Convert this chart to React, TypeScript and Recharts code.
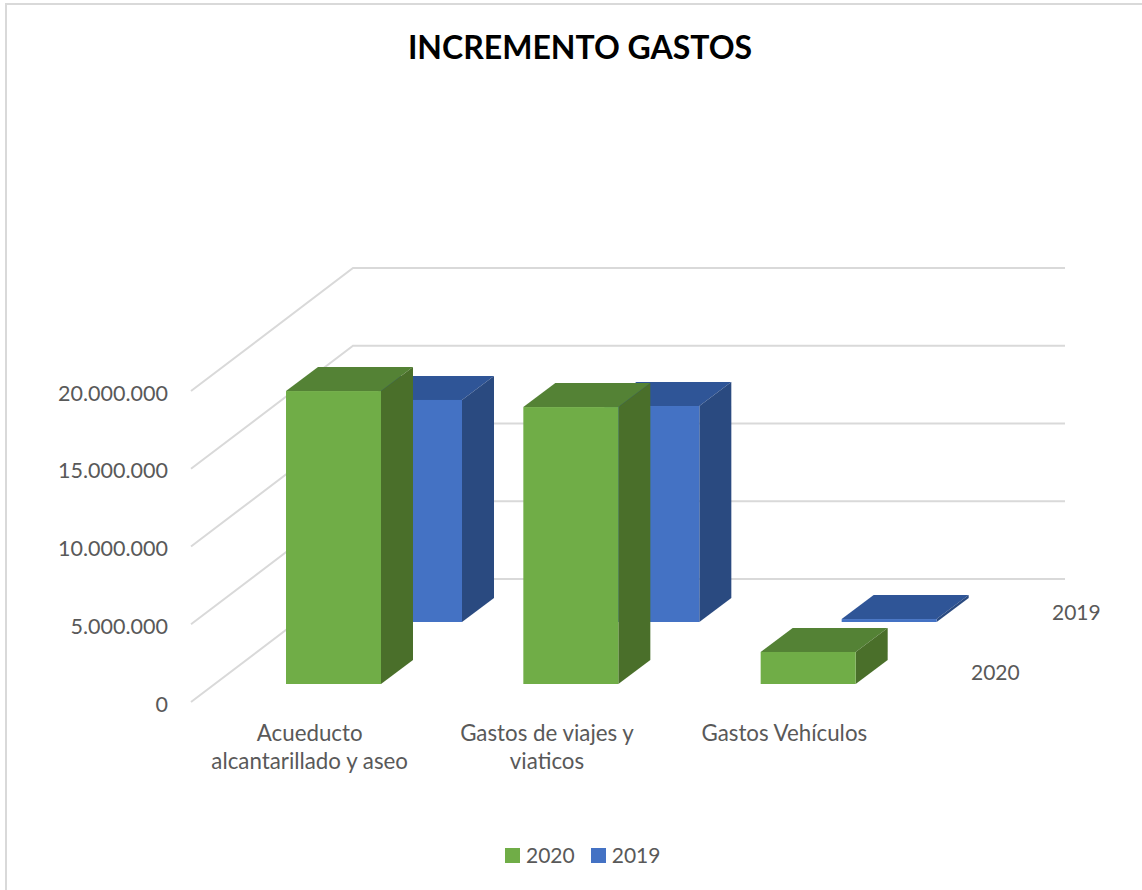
import React from 'react';
import { BarChart, Bar, XAxis, YAxis, CartesianGrid, Legend } from 'recharts';

const categories = ['Acueducto alcantarillado y aseo', 'Gastos de viajes y viaticos', 'Gastos Vehículos'];
const tickLines = [
    ['Acueducto', 'alcantarillado y aseo'],
    ['Gastos de viajes y', 'viaticos'],
    ['Gastos Vehículos'],
];
const values2020 = [18840000, 17810000, 2060000];
const values2019 = [14280000, 13890000, 190000];
const yTicks = [0, 5000000, 10000000, 15000000, 20000000];
const legendOrder = ['2020', '2019'];

const data = categories.map((name, i) => ({
    name,
    y2020: values2020[i],
    y2019: values2019[i],
}));

const FONT = 'Lato, sans-serif';
const TEXT_COLOR = '#595959';
const GRID_COLOR = '#d9d9d9';
const BAR_WIDTH = 95;

// depth of the floor in pixels, and of one box
const FLOOR_DX = 162;
const FLOOR_DY = 123;
const BOX_DX = 32;
const BOX_DY = 24;

const COLORS_2020 = { front: '#70ad47', top: '#548235', side: '#4a6f2a' };
const COLORS_2019 = { front: '#4472c4', top: '#2f5597', side: '#2a4a80' };
const LEGEND_COLORS: Record<string, string> = { '2020': COLORS_2020.front, '2019': COLORS_2019.front };

const formatTick = (v: number) => v.toString().replace(/\B(?=(\d{3})+(?!\d))/g, '.');

// box drawn from the bar rectangle, pushed back into the floor by (dx, dy)
const boxShape = (colors: typeof COLORS_2020, dx: number, dy: number) => (props: any) => {
    const x = props.x + dx;
    const y = props.y + dy;
    const w = props.width;
    const h = props.height;
    return (
        <g>
            <polygon
                points={`${x},${y} ${x + BOX_DX},${y - BOX_DY} ${x + w + BOX_DX},${y - BOX_DY} ${x + w},${y}`}
                fill={colors.top}
            />
            <polygon
                points={`${x + w},${y} ${x + w + BOX_DX},${y - BOX_DY} ${x + w + BOX_DX},${y + h - BOX_DY} ${x + w},${y + h}`}
                fill={colors.side}
            />
            <rect x={x} y={y} width={w} height={h} fill={colors.front} />
        </g>
    );
};

const gridLine = (props: any) => {
    const { x1, y1, x2 } = props;
    return (
        <polyline
            key={props.key ?? y1}
            points={`${x1},${y1} ${x1 + FLOOR_DX},${y1 - FLOOR_DY} ${x2 + FLOOR_DX},${y1 - FLOOR_DY}`}
            fill="none"
            stroke={GRID_COLOR}
            strokeWidth={2}
        />
    );
};

const CategoryTick = (props: any) => {
    const { x, y, index } = props;
    return (
        <text x={x} textAnchor="middle" fontFamily={FONT} fontSize={22.3} fill={TEXT_COLOR}>
            {tickLines[index].map((line, i) => (
                <tspan key={line} x={x} y={y + 31 + i * 28}>
                    {line}
                </tspan>
            ))}
        </text>
    );
};

const LegendContent = () => (
    <div style={{ display: 'flex', fontFamily: FONT, fontSize: 21, color: TEXT_COLOR, lineHeight: '24px' }}>
        {legendOrder.map((name, i) => (
            <div key={name} style={{ display: 'flex', alignItems: 'center', marginRight: i === 0 ? 16 : 0 }}>
                <span style={{ width: 15, height: 15, background: LEGEND_COLORS[name], marginRight: 6 }} />
                {name}
            </div>
        ))}
    </div>
);

export default function App() {
    return (
        <div style={{ position: 'absolute', left: 0, top: 0, width: 1142, height: 890, overflow: 'hidden', background: '#fff' }}>
            <div
                style={{
                    position: 'absolute',
                    left: 5,
                    top: 3,
                    width: 1137,
                    height: 887,
                    borderLeft: `2px solid ${GRID_COLOR}`,
                    borderTop: `2px solid ${GRID_COLOR}`,
                    boxSizing: 'border-box',
                }}
            />
            <div style={{ position: 'absolute', left: 0, top: 0 }}>
                <BarChart
                    width={1142}
                    height={890}
                    data={data}
                    barSize={BAR_WIDTH}
                    barGap={-BAR_WIDTH}
                    margin={{ top: 391, right: 239, bottom: 108, left: 0 }}
                >
                    <text x={580} y={59} textAnchor="middle" fontFamily={FONT} fontSize={32} fontWeight={700} fill="#000">
                        INCREMENTO GASTOS
                    </text>
                    <CartesianGrid vertical={false} horizontal={gridLine} />
                    <XAxis
                        dataKey="name"
                        axisLine={false}
                        tickLine={false}
                        height={80}
                        interval={0}
                        tick={<CategoryTick />}
                    />
                    <YAxis
                        width={191}
                        domain={[0, 20000000]}
                        ticks={yTicks}
                        axisLine={false}
                        tickLine={false}
                        tickMargin={17}
                        tickFormatter={formatTick}
                        tick={{ fontFamily: FONT, fontSize: 21.5, fill: TEXT_COLOR, dy: 2 }}
                    />
                    <Bar dataKey="y2019" isAnimationActive={false} shape={boxShape(COLORS_2019, 105, -80)} />
                    <Bar dataKey="y2020" isAnimationActive={false} shape={boxShape(COLORS_2020, 24, -18)} />
                    <Legend
                        verticalAlign="middle"
                        content={<LegendContent />}
                        wrapperStyle={{ left: 505, top: 843, width: 'auto' }}
                    />
                    <text x={1052} y={620} fontFamily={FONT} fontSize={21} fill={TEXT_COLOR}>
                        {legendOrder[1]}
                    </text>
                    <text x={971} y={680} fontFamily={FONT} fontSize={21} fill={TEXT_COLOR}>
                        {legendOrder[0]}
                    </text>
                </BarChart>
            </div>
        </div>
    );
}
